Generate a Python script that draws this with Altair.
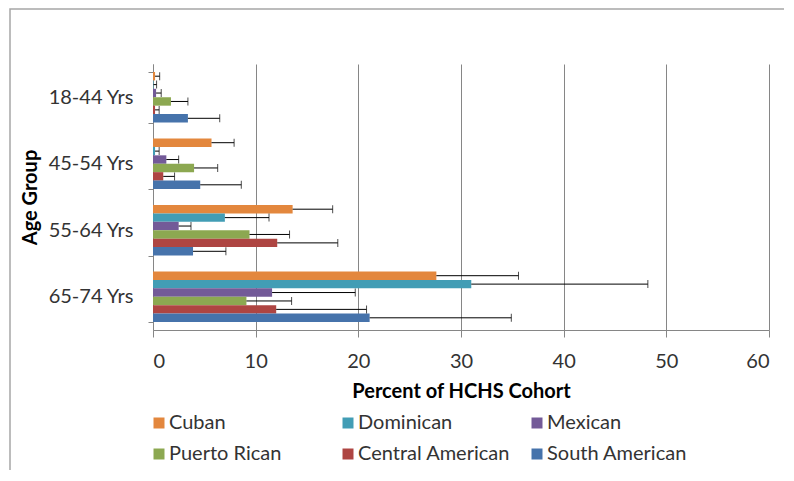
import altair as alt
import pandas as pd

groups = ["18-44 Yrs", "45-54 Yrs", "55-64 Yrs", "65-74 Yrs"]
series = ["Cuban", "Dominican", "Mexican", "Puerto Rican", "Central American", "South American"]
colors = ["#E3873D", "#429DB5", "#735A98", "#8CA851", "#AE4542", "#4673AB"]

# percent values per series, in group order
cuban = [0.2, 5.7, 13.6, 27.6]
dominican = [0.05, 0.2, 7.0, 31.0]
mexican = [0.3, 1.3, 2.5, 11.6]
puerto_rican = [1.75, 4.0, 9.4, 9.1]
central_american = [0.2, 1.0, 12.1, 12.0]
south_american = [3.4, 4.6, 3.9, 21.1]

# plus error bar lengths
cuban_err = [0.45, 2.2, 3.9, 8.0]
dominican_err = [0.3, 0.4, 4.3, 17.2]
mexican_err = [0.5, 1.2, 1.2, 8.1]
puerto_rican_err = [1.65, 2.3, 3.9, 4.4]
central_american_err = [0.4, 1.1, 5.9, 8.8]
south_american_err = [3.1, 4.0, 3.2, 13.8]

values = [cuban, dominican, mexican, puerto_rican, central_american, south_american]
errors = [cuban_err, dominican_err, mexican_err, puerto_rican_err, central_american_err, south_american_err]

rows = []
for s, vals, errs in zip(series, values, errors):
    for g, v, e in zip(groups, vals, errs):
        rows.append({"group": g, "series": s, "value": v, "upper": round(v + e, 3)})
df = pd.DataFrame(rows)

FONT = "Lato"
XTITLE = "Percent of HCHS Cohort"
YTITLE = "Age Group"
GRAY = "#868686"

y_enc = alt.Y(
    "group:N",
    sort=groups,
    scale=alt.Scale(paddingInner=0.24, paddingOuter=0.12),
    title=YTITLE,
    axis=alt.Axis(
        tickBand="extent",
        domainColor=GRAY,
        tickColor=GRAY,
        tickSize=5,
        grid=False,
        labelFont=FONT,
        labelFontSize=20,
        labelColor="#333333",
        labelPadding=15,
        titleFont=FONT,
        titleFontSize=20,
        titleFontWeight="bold",
        titleColor="#000000",
        titlePadding=7,
    ),
)
yoff_enc = alt.YOffset("series:N", sort=series, scale=alt.Scale(domain=series, paddingInner=0, paddingOuter=0))

x_scale = alt.Scale(domain=[0, 60], nice=False)
x_axis = alt.Axis(
    values=[0, 10, 20, 30, 40, 50, 60],
    format="d",
    grid=True,
    gridColor=GRAY,
    gridWidth=1,
    domainColor=GRAY,
    tickColor=GRAY,
    tickSize=7,
    labelFont=FONT,
    labelFontSize=20,
    labelColor="#333333",
    labelPadding=14,
    titleFont=FONT,
    titleFontSize=20,
    titleFontWeight="bold",
    titleColor="#000000",
    titlePadding=10,
)

base = alt.Chart(df)

bars = base.mark_bar().encode(
    x=alt.X("value:Q", scale=x_scale, axis=x_axis, title=XTITLE),
    y=y_enc,
    yOffset=yoff_enc,
    color=alt.Color(
        "series:N",
        sort=series,
        scale=alt.Scale(domain=series, range=colors),
        legend=alt.Legend(
            orient="none",
            direction="horizontal",
            legendX=-4,
            legendY=349,
            columns=3,
            gridAlign="all",
            title=None,
            symbolType="square",
            symbolSize=121,
            symbolStrokeWidth=0,
            labelFont=FONT,
            labelFontSize=20,
            labelColor="#333333",
            labelOffset=0,
            columnPadding=16,
            rowPadding=11,
            padding=0,
        ),
    ),
)

rules = base.mark_rule(color="black", strokeWidth=1).encode(
    x=alt.X("value:Q", scale=x_scale, title=XTITLE),
    x2="upper:Q",
    y=alt.Y("group:N", sort=groups, title=YTITLE),
    yOffset=yoff_enc,
)

caps = base.mark_tick(color="black", thickness=1, size=8).encode(
    x=alt.X("upper:Q", scale=x_scale, title=XTITLE),
    y=alt.Y("group:N", sort=groups, title=YTITLE),
    yOffset=yoff_enc,
)

frame = alt.Chart(pd.DataFrame({"k": [0]})).mark_rect(
    fillOpacity=0, stroke="#a6a6a6", strokeWidth=1.5
).encode(
    x=alt.value(-143), x2=alt.value(900), y=alt.value(-55), y2=alt.value(600)
)

chart = (
    alt.layer(frame, bars, rules, caps)
    .properties(
        width=616,
        height=266,
        autosize=alt.AutoSizeParams(type="none"),
        padding={"left": 145, "top": 56, "right": 15, "bottom": 140},
    )
    .configure_view(strokeWidth=0)
)

chart.save("out.html", embed_options={"renderer": "svg", "actions": False})
